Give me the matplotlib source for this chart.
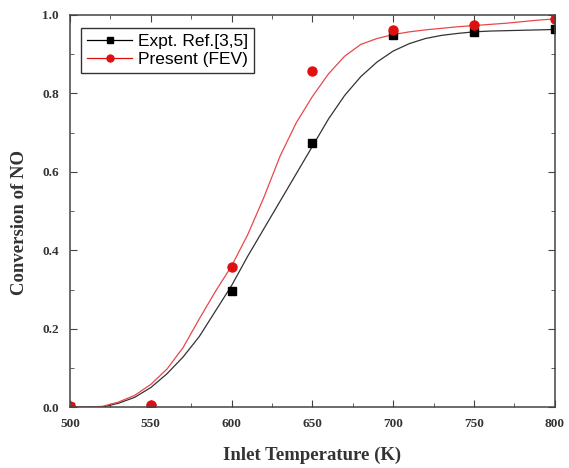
import matplotlib
matplotlib.use('Agg')
import matplotlib.pyplot as plt
from matplotlib.ticker import MultipleLocator

# measured points
temp_pts = [500, 550, 600, 650, 700, 750, 800]
expt_pts = [0.0, 0.0, 0.297, 0.673, 0.948, 0.957, 0.963]
fev_pts = [0.003, 0.005, 0.358, 0.858, 0.962, 0.975, 0.99]

# fitted curves
temp_fit = [500, 510, 520, 530, 540, 550, 560, 570, 580, 590, 600, 610, 620, 630, 640,
            650, 660, 670, 680, 690, 700, 710, 720, 730, 740, 750, 760, 770, 780, 790, 800]
expt_fit = [0.0, 0.0, 0.0, 0.01, 0.025, 0.05, 0.085, 0.128, 0.18, 0.245, 0.31, 0.385,
            0.455, 0.525, 0.595, 0.665, 0.735, 0.795, 0.843, 0.88, 0.908, 0.927, 0.94,
            0.948, 0.953, 0.957, 0.959, 0.96, 0.961, 0.962, 0.963]
fev_fit = [0.0, 0.0, 0.002, 0.013, 0.03, 0.058, 0.097, 0.152, 0.225, 0.295, 0.36, 0.44,
           0.535, 0.64, 0.725, 0.792, 0.85, 0.895, 0.925, 0.94, 0.95, 0.957, 0.962,
           0.966, 0.97, 0.973, 0.976, 0.979, 0.983, 0.987, 0.99]

fig = plt.figure(figsize=(5.69, 4.68), dpi=100)
ax = fig.add_axes([0.123, 0.130, 0.852, 0.838])

ax.plot(temp_fit, expt_fit, color='#333333', lw=0.9)
ax.plot(temp_fit, fev_fit, color='#e8484a', lw=0.9)
ax.plot(temp_pts, expt_pts, 's', color='black', ms=6, ls='none')
ax.plot(temp_pts, fev_pts, 'o', color='#e01010', ms=6.5, ls='none')

# legend handles
ax.plot([], [], '-s', color='black', ms=4.5, lw=0.9, label='Expt. Ref.[3,5]')
ax.plot([], [], '-o', color='#e01010', ms=5, lw=0.9, label='Present (FEV)')
leg = ax.legend(loc='upper left', bbox_to_anchor=(0.023, 0.967), borderaxespad=0,
                fancybox=False, edgecolor='#333333', framealpha=1,
                handlelength=2.6, handletextpad=0.3, labelspacing=0.15,
                borderpad=0.35,
                prop={'family': 'Liberation Sans', 'size': 12.5})
leg.get_frame().set_linewidth(1.0)

ax.set_xlim(500, 800)
ax.set_ylim(0, 1.0)
ax.xaxis.set_major_locator(MultipleLocator(50))
ax.xaxis.set_minor_locator(MultipleLocator(25))
ax.yaxis.set_major_locator(MultipleLocator(0.2))
ax.yaxis.set_minor_locator(MultipleLocator(0.1))
ax.tick_params(which='both', direction='in', top=True, right=True, color='#444444')
ax.tick_params(which='major', length=5, pad=8)
ax.tick_params(which='minor', length=3)
ax.set_yticks([0, 0.2, 0.4, 0.6, 0.8, 1.0])
ax.set_yticklabels(['0.0', '0.2', '0.4', '0.6', '0.8', '1.0'])
for lab in ax.get_xticklabels() + ax.get_yticklabels():
    lab.set_family('Liberation Serif')
    lab.set_fontweight('bold')
    lab.set_fontsize(9.5)
    lab.set_color('#333333')
for sp in ax.spines.values():
    sp.set_color('#444444')
    sp.set_linewidth(1.1)

ax.set_xlabel('Inlet Temperature (K)', family='Liberation Serif', fontweight='bold',
              fontsize=13.5, color='#333333')
ax.set_ylabel('Conversion of NO', family='Liberation Serif', fontweight='bold',
              fontsize=13.5, color='#333333')
ax.xaxis.set_label_coords(0.5, -0.10)
ax.yaxis.set_label_coords(-0.087, 0.47)

fig.savefig('out.png', dpi=100)
